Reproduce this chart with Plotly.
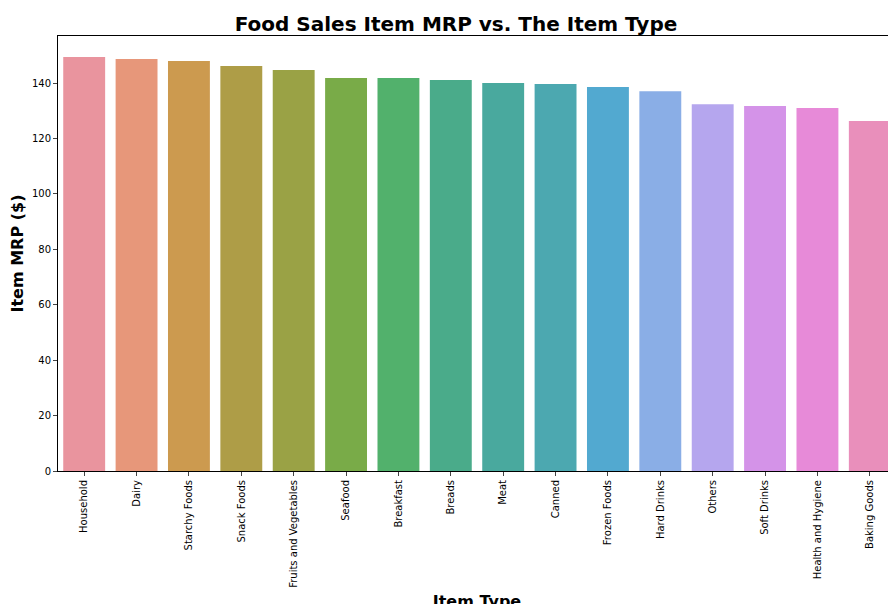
import plotly.graph_objects as go

item_types = ["Household", "Dairy", "Starchy Foods", "Snack Foods", "Fruits and Vegetables",
              "Seafood", "Breakfast", "Breads", "Meat", "Canned", "Frozen Foods",
              "Hard Drinks", "Others", "Soft Drinks", "Health and Hygiene", "Baking Goods"]
mrp = [149.4, 148.7, 148.0, 146.2, 144.7, 141.8, 141.8, 141.1, 140.0, 139.7, 138.6,
       137.1, 132.4, 131.7, 131.0, 126.3]
colores = ["#e9949e", "#e7977a", "#cc9a4f", "#ae9d47", "#9aa245", "#79ab48", "#52b16c",
           "#4aab8a", "#49a99e", "#4ca8b0", "#52a9d0", "#8aaee6", "#b5a6ee", "#d493e8",
           "#e78ad8", "#e98fbb"]

fig = go.Figure(data=go.Bar(x=item_types, y=mrp, marker_color=colores, marker_line_width=0, width=0.8))
fig.update_layout(
    width=896, height=604,
    margin=dict(l=50, r=8, t=28, b=141),
    plot_bgcolor="white", paper_bgcolor="white",
    font=dict(family="DejaVu Sans", color="black", size=10),
    title=dict(text="<b>Food Sales Item MRP vs. The Item Type</b>", x=0.5, xanchor="center",
               y=0.985, yanchor="top", font=dict(size=20)),
    showlegend=False,
)
fig.update_xaxes(title=dict(text="<b>Item Type</b>", font=dict(size=16), standoff=8), tickangle=-90,
                 showline=True, linecolor="black", mirror=True, ticks="outside", ticklen=4,
                 range=[-0.5, 15.5], automargin=False)
fig.update_yaxes(title=dict(text="<b>Item MRP ($)</b>", font=dict(size=16), standoff=6), range=[0, 157],
                 dtick=20, showgrid=False, zeroline=False, showline=True, linecolor="black",
                 mirror=True, ticks="outside", ticklen=4, automargin=False)
fig.write_html("out.html")
